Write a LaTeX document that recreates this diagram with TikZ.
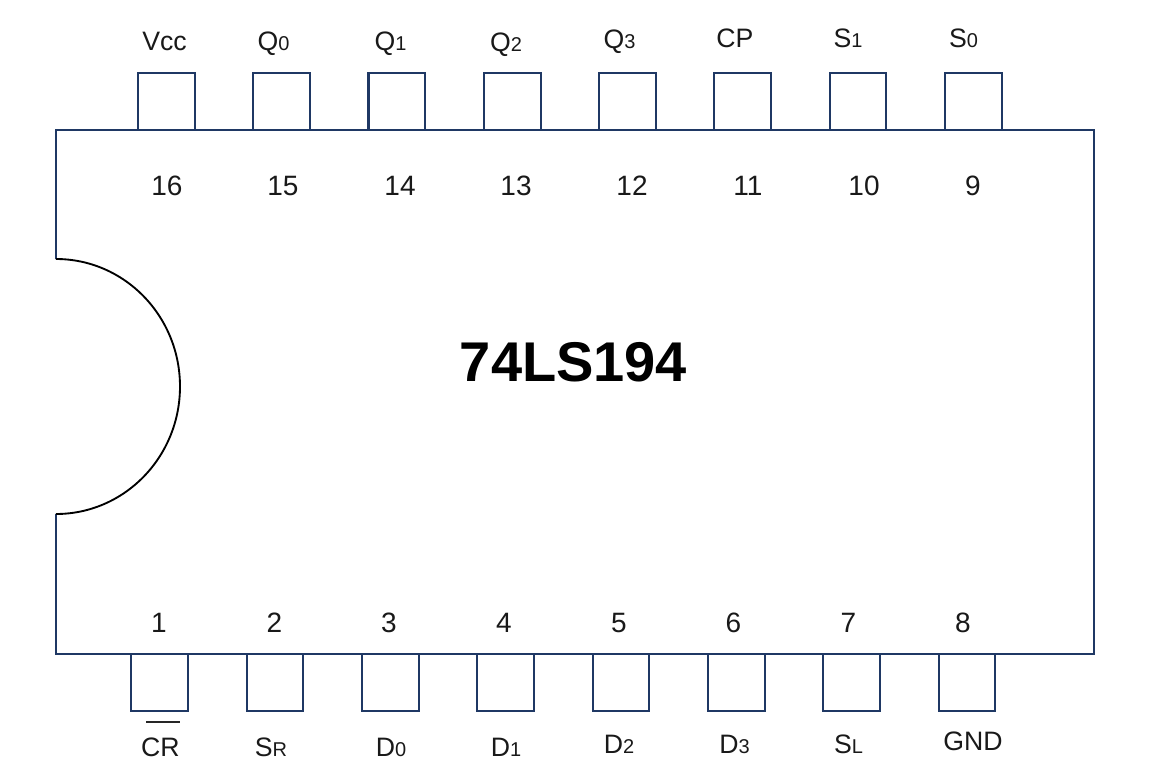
\documentclass[tikz,border=0pt]{standalone}
\usepackage{fontspec}
\setmainfont{Liberation Sans}
\usetikzlibrary{calc, positioning}
\definecolor{chipblue}{RGB}{31,56,100}
\newcommand{\sm}[1]{{\fontsize{15}{15}\selectfont #1}}
\tikzset{
	pin/.style={shape=rectangle, minimum width=42.4pt, minimum height=42.75pt, inner sep=0pt, draw=chipblue, line width=1.7pt, fill=white},
	pintext/.style={anchor=base, inner sep=0pt, text=black!90, font=\fontsize{20}{20}\selectfont},
	pinnum/.style={anchor=base, inner sep=0pt, text=black!90, font=\fontsize{21}{21}\selectfont}
}
\begin{document}
\begin{tikzpicture}[x=0.75pt, y=-0.75pt]
\useasboundingbox (0,0) rectangle (1167,778);
% pins first, the body goes over them
\foreach \x/\n in {166.5/t16,281.5/t15,396.8/t14,512.5/t13,627.5/t12,742.5/t11,858/t10,973.5/t9}{
	\node[pin] (\n) at (\x,101.5) {};
}
\foreach \x/\n in {159.5/b1,275/b2,390.5/b3,505.5/b4,621/b5,736.5/b6,851.5/b7,967/b8}{
	\node[pin] (\n) at (\x,682.5) {};
}
% body with the notch
\draw[chipblue, line width=1.7pt, line join=miter, fill=white] (56,259) -- (56,130) -- (1094,130) -- (1094,654) -- (56,654) -- (56,514);
\draw[black, line width=1.4pt] (56,259) arc[start angle=-90, end angle=90, x radius=124, y radius=127.5];
\node[anchor=base, inner sep=0pt, font=\fontsize{42}{42}\selectfont\bfseries] (title) at (573.5,381) {74LS194};
% pin numbers
\foreach \x/\i in {167/16,283/15,400/14,516/13,632/12,748/11,864/10,973/9}{
	\node[pinnum] (n\i) at (\x,195) {\i};
}
\foreach \x/\i in {159/1,274.5/2,389/3,504/4,619/5,733.5/6,848.5/7,963/8}{
	\node[pinnum] (n\i) at (\x,632) {\i};
}
% pin names
\node[pintext] (vcc) at (164.5,50) {Vcc};
\node[pintext] (q0) at (273.5,50) {Q\sm{0}};
\node[pintext] (q1) at (390.5,50) {Q\sm{1}};
\node[pintext] (q2) at (506,51) {Q\sm{2}};
\node[pintext] (q3) at (619.5,48) {Q\sm{3}};
\node[pintext] (cp) at (735,47) {CP};
\node[pintext] (s1) at (848,47) {S\sm{1}};
\node[pintext] (s0) at (963.5,47) {S\sm{0}};
\node[pintext] (cr) at (160.5,756) {CR};
\node[pintext] (sr) at (271,756) {S\sm{R}};
\node[pintext] (d0) at (391,756) {D\sm{0}};
\node[pintext] (d1) at (506,756) {D\sm{1}};
\node[pintext] (d2) at (619,753) {D\sm{2}};
\node[pintext] (d3) at (734.5,753) {D\sm{3}};
\node[pintext] (sl) at (848.5,753) {S\sm{L}};
\node[pintext] (gnd) at (973,750) {GND};
\coordinate (barl) at (146,722);
\coordinate (barr) at (180,722);
\draw[black!85, line width=1.4pt] (barl) -- (barr);
\end{tikzpicture}
\end{document}
